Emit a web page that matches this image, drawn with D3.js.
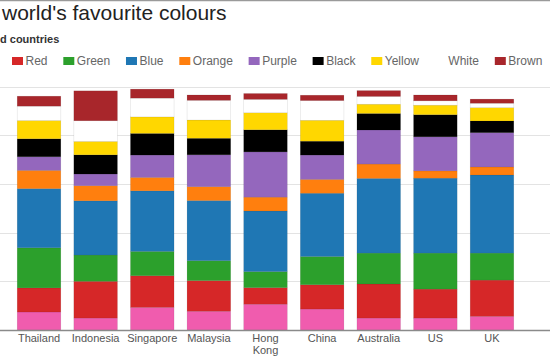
<!DOCTYPE html>
<html>
<head>
<meta charset="utf-8">
<script src="https://cdn.jsdelivr.net/npm/d3@7"></script>
<style>
  html, body { margin: 0; padding: 0; background: #fff; }
  svg { display: block; font-family: "Liberation Sans", Arial, Helvetica, sans-serif; }
</style>
</head>
<body>
<svg id="chart" width="550" height="360"></svg>
<script>
// ---- data (percent of respondents) ----
const countries = ["Thailand", "Indonesia", "Singapore", "Malaysia", "Hong Kong", "China", "Australia", "US", "UK"];
const seriesNames = ["Pink", "Red", "Green", "Blue", "Orange", "Purple", "Black", "Yellow", "White", "Brown"];
const legendNames = ["Red", "Green", "Blue", "Orange", "Purple", "Black", "Yellow", "White", "Brown"];
const pink   = [7.4, 4.9, 9.3, 7.7, 10.6, 8.6, 4.9, 4.9, 5.6];
const red    = [9.9, 15.1, 13.0, 12.6, 6.8, 10.0, 14.0, 11.9, 14.9];
const green  = [16.5, 10.8, 10.0, 8.2, 6.6, 11.6, 12.7, 14.8, 11.1];
const blue   = [24.3, 22.3, 24.9, 24.7, 24.9, 26.0, 30.7, 30.8, 32.1];
const orange = [7.5, 6.2, 5.5, 5.7, 5.7, 5.7, 5.9, 3.0, 3.3];
const purple = [5.6, 4.8, 9.2, 13.1, 18.6, 10.0, 14.0, 14.0, 14.1];
const black  = [7.4, 7.9, 8.9, 6.8, 9.1, 5.7, 6.8, 9.1, 4.8];
const yellow = [7.5, 5.5, 6.8, 7.5, 7.0, 8.6, 3.8, 3.9, 5.5];
const white  = [5.9, 8.5, 7.7, 8.1, 5.5, 8.1, 3.2, 1.8, 1.8];
const brown  = [4.1, 12.3, 3.7, 2.2, 2.4, 2.2, 2.4, 2.4, 1.7];
const yTicks = [0, 20, 40, 60, 80, 100];

const seriesValues = [pink, red, green, blue, orange, purple, black, yellow, white, brown];
const colours = ["#f05cae", "#d62728", "#2ca02c", "#1f77b4", "#ff7f0e", "#9467bd", "#000000", "#ffd700", "#ffffff", "#a8262b"];

// ---- build table for stack ----
const table = countries.map((c, i) => {
  const row = { country: c };
  seriesNames.forEach((s, j) => row[s] = seriesValues[j][i]);
  return row;
});
const stacked = d3.stack().keys(seriesNames)(table);

const svg = d3.select("#chart");
const W = 550, H = 360;

const x = d3.scaleBand().domain(countries).range([10.7, 520.3]).paddingInner(0.23).paddingOuter(0.115);
const y = d3.scaleLinear().domain([0, 100]).range([330, 86.7]);
const colour = d3.scaleOrdinal().domain(seriesNames).range(colours);

// top border
svg.append("line").attr("x1", 0).attr("x2", W).attr("y1", 0.5).attr("y2", 0.5)
  .attr("stroke", "#9a9a9a").attr("stroke-width", 1.5);

// gridlines
svg.append("g").selectAll("line").data(yTicks.filter(d => d > 0)).join("line")
  .attr("x1", 0).attr("x2", W)
  .attr("y1", d => Math.round(y(d)) + 0.5).attr("y2", d => Math.round(y(d)) + 0.5)
  .attr("stroke", "#e3e3e3").attr("stroke-width", 1);

// bars
svg.append("g").selectAll("g").data(stacked).join("g")
  .attr("fill", d => colour(d.key))
  .selectAll("rect").data(d => d).join("rect")
  .attr("x", d => x(d.data.country))
  .attr("width", x.bandwidth())
  .attr("y", d => y(d[1]))
  .attr("height", d => y(d[0]) - y(d[1]))
  .attr("stroke", "rgba(0,0,0,0.12)")
  .attr("stroke-width", 0.6);

// baseline
svg.append("line").attr("x1", 0).attr("x2", W).attr("y1", y(0) + 0.5).attr("y2", y(0) + 0.5)
  .attr("stroke", "#8a8a8a").attr("stroke-width", 1.5);

// x axis labels
const xAxis = svg.append("g").attr("transform", `translate(0,${y(0)})`)
  .call(d3.axisBottom(x).tickSize(0).tickPadding(4));
xAxis.select(".domain").remove();
xAxis.selectAll("text")
  .attr("font-size", 11).attr("fill", "#555").attr("font-family", "Liberation Sans, Arial, sans-serif")
  .each(function(d) {
    const t = d3.select(this);
    const words = d.split(" ");
    if (words.length > 1) {
      t.text(null);
      words.forEach((w, i) => {
        t.append("tspan").attr("x", 0).attr("dy", i === 0 ? "0.71em" : "1.15em").text(w);
      });
      t.attr("dy", null);
    }
  });

// title (visible part, as in the cropped reference)
svg.append("text").attr("x", 2).attr("y", 20).attr("font-size", 21).attr("fill", "#222")
  .text("world's favourite colours");

// subtitle (visible part only)
svg.append("text").attr("x", 0).attr("y", 43).attr("font-size", 11).attr("font-weight", "bold")
  .attr("fill", "#333").text("d countries");

// legend
const legend = svg.append("g").attr("font-size", 12).attr("fill", "#666");
const sw = 11, sh = 8, gapText = 2.5, gapItem = 15.8, legY = 61;
let cx = 12;
legendNames.forEach((n) => {
  const g = legend.append("g").attr("transform", `translate(${cx},0)`);
  g.append("rect").attr("x", 0).attr("y", legY - sh / 2).attr("width", sw).attr("height", sh)
    .attr("fill", colour(n));
  const t = g.append("text").attr("x", sw + gapText).attr("y", legY + 4).text(n);
  cx += sw + gapText + t.node().getComputedTextLength() + gapItem;
});
</script>
</body>
</html>
